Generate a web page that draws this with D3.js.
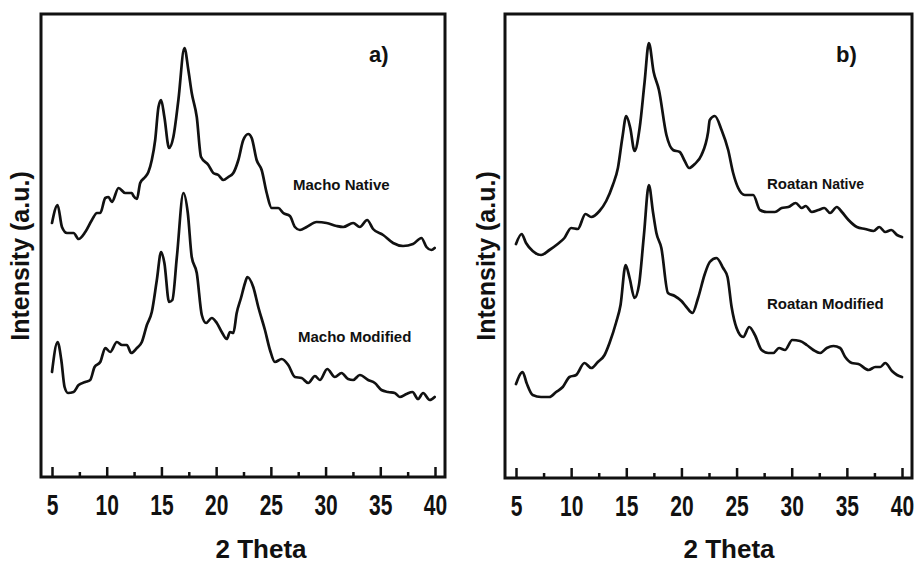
<!DOCTYPE html>
<html>
<head>
<meta charset="utf-8">
<script src="https://cdn.jsdelivr.net/npm/d3@7"></script>
<style>
  body { margin: 0; background: #fff; }
  text { font-family: "Liberation Sans", Arial, sans-serif; fill: #111; }
</style>
</head>
<body>
<div id="chart"></div>
<script>
// 2 Theta values for the ticks
let majorTicks = [5, 10, 15, 20, 25, 30, 35, 40];
let minorTicks = [7.5, 12.5, 17.5, 22.5, 27.5, 32.5, 37.5];

// XRD patterns, [2 theta, intensity (a.u.)]
let machoNative = [
    [5.00, 254], [5.51, 272], [5.91, 250], [6.37, 244], [6.97, 244], [7.43, 238], [8.04, 245],
    [8.65, 257], [9.11, 264], [9.41, 264], [9.87, 279], [10.16, 280], [10.47, 275], [11.08, 289],
    [11.69, 284], [12.30, 284], [12.45, 281], [12.76, 278], [13.06, 294], [13.51, 300], [13.81, 305],
    [14.12, 317], [14.43, 337], [14.73, 370], [14.97, 377], [15.27, 360], [15.70, 329], [16.09, 340],
    [16.55, 377], [17.10, 429], [17.46, 407], [17.77, 384], [18.23, 360], [18.62, 320], [19.29, 312],
    [19.74, 304], [20.20, 302], [20.66, 297], [21.11, 300], [21.57, 304], [22.03, 317], [22.48, 337],
    [22.94, 343], [23.25, 339], [23.70, 317], [24.16, 307], [24.62, 284], [25.07, 269], [25.68, 269],
    [26.13, 264], [26.74, 261], [27.20, 250], [27.66, 247], [28.27, 250], [29.18, 255], [30.09, 254],
    [31.00, 251], [31.61, 250], [32.52, 254], [33.13, 250], [33.80, 257], [34.34, 248], [35.26, 242],
    [36.17, 234], [37.08, 231], [37.99, 233], [38.76, 239], [39.22, 230], [39.67, 227], [39.97, 229]
];
let machoModified = [
    [5.00, 105], [5.51, 135], [5.85, 117], [6.15, 90], [6.46, 84], [6.97, 85], [7.43, 92],
    [8.04, 95], [8.49, 97], [8.89, 110], [9.41, 115], [9.87, 129], [10.32, 125], [10.93, 135],
    [11.39, 132], [11.84, 132], [12.24, 124], [12.76, 129], [13.21, 135], [13.67, 152], [14.12, 165],
    [14.58, 197], [14.97, 225], [15.27, 214], [15.70, 175], [16.00, 177], [16.41, 220], [17.01, 284],
    [17.41, 264], [17.77, 220], [18.23, 204], [18.69, 162], [19.08, 154], [19.60, 159], [20.06, 154],
    [20.51, 145], [20.97, 138], [21.27, 145], [21.57, 144], [21.88, 164], [22.27, 179], [22.64, 194],
    [22.85, 200], [23.39, 190], [23.85, 170], [24.46, 147], [24.92, 127], [25.37, 115], [25.99, 118],
    [26.59, 112], [27.20, 100], [27.81, 99], [28.42, 94], [29.03, 101], [29.48, 97], [30.15, 108],
    [30.85, 100], [31.46, 104], [32.06, 98], [32.52, 97], [33.13, 102], [33.89, 97], [34.50, 94],
    [35.11, 87], [35.71, 85], [36.32, 84], [36.78, 80], [37.39, 83], [37.94, 85], [38.45, 78],
    [38.91, 84], [39.52, 77], [39.97, 80]
];
let roatanNative = [
    [5.00, 234], [5.51, 244], [5.91, 235], [6.51, 227], [7.27, 223], [8.03, 228], [8.78, 234],
    [9.39, 240], [10.00, 250], [10.60, 249], [11.30, 264], [11.82, 261], [12.57, 267], [13.18, 277],
    [13.78, 293], [14.24, 310], [14.64, 340], [15.00, 362], [15.36, 350], [15.75, 327], [16.21, 350],
    [16.66, 396], [17.05, 435], [17.48, 406], [17.96, 388], [18.64, 343], [19.24, 328], [19.85, 326],
    [20.30, 317], [20.69, 310], [21.21, 314], [21.82, 323], [22.42, 346], [22.57, 358], [23.03, 362],
    [23.64, 348], [24.24, 328], [24.69, 305], [25.15, 290], [25.75, 283], [26.51, 283], [27.12, 268],
    [27.73, 266], [28.48, 266], [29.09, 270], [29.69, 271], [30.36, 275], [30.91, 270], [31.27, 272],
    [31.82, 266], [32.42, 268], [32.96, 270], [33.48, 265], [34.09, 271], [34.55, 266], [35.15, 258],
    [35.91, 251], [36.66, 249], [37.42, 247], [37.94, 251], [38.48, 246], [39.03, 248], [39.55, 243],
    [40.00, 241]
];
let roatanModified = [
    [5.00, 94], [5.60, 106], [5.96, 95], [6.51, 83], [7.27, 81], [8.03, 81], [8.64, 86],
    [9.24, 91], [9.85, 101], [10.45, 103], [11.21, 115], [11.82, 110], [12.42, 116], [13.03, 123],
    [13.48, 135], [14.09, 156], [14.48, 173], [14.94, 213], [15.30, 200], [15.75, 180], [16.15, 193],
    [16.60, 243], [17.05, 293], [17.42, 266], [17.73, 245], [18.18, 230], [18.78, 185], [19.39, 182],
    [20.00, 177], [20.45, 171], [21.00, 165], [21.51, 180], [22.12, 204], [22.57, 216], [23.18, 220],
    [23.78, 210], [24.18, 201], [24.55, 171], [25.00, 150], [25.60, 141], [26.15, 151], [26.66, 143],
    [27.27, 128], [27.87, 125], [28.33, 125], [28.85, 130], [29.39, 128], [30.05, 138], [30.75, 137],
    [31.36, 133], [31.96, 128], [32.57, 125], [33.18, 130], [33.78, 132], [34.39, 130], [34.85, 121],
    [35.45, 115], [36.05, 114], [36.96, 108], [37.58, 111], [38.03, 111], [38.48, 115], [39.09, 107],
    [39.55, 103], [40.00, 101]
];

let panels = [
    {
        left: 41, right: 445, top: 14, bottom: 477, tag: 'a)',
        series: [
            { data: machoNative, name: ['Macho', 'Native'], lx: 293, ly: 190 },
            { data: machoModified, name: ['Macho', 'Modified'], lx: 298, ly: 342 }
        ],
        yLabelX: 29, titleX: 261
    },
    {
        left: 505, right: 912, top: 14, bottom: 478, tag: 'b)',
        series: [
            { data: roatanNative, name: ['Roatan', 'Native'], lx: 767, ly: 189, small: true },
            { data: roatanModified, name: ['Roatan', 'Modified'], lx: 767, ly: 309 }
        ],
        yLabelX: 495, titleX: 729
    }
];

let svg = d3.select('#chart')
    .append('svg')
    .attr('width', 919)
    .attr('height', 565);

panels.forEach(function (p) {
    let x = d3.scaleLinear().domain([5, 40]).range([p.left + 11, p.right - 10]);
    let y = d3.scaleLinear().domain([0, 464]).range([p.bottom, p.bottom - 464]);

    let line = d3.line()
        .x(function (d) { return x(d[0]); })
        .y(function (d) { return y(d[1]); })
        .curve(d3.curveMonotoneX);

    // curves
    p.series.forEach(function (s) {
        svg.append('path')
            .datum(s.data)
            .attr('fill', 'none')
            .attr('stroke', '#111')
            .attr('stroke-width', 2.7)
            .attr('stroke-linejoin', 'round')
            .attr('stroke-linecap', 'round')
            .attr('d', line);

        let t = svg.append('text')
            .attr('x', s.lx)
            .attr('y', s.ly)
            .attr('font-size', 15)
            .attr('font-weight', 'bold');
        t.append('tspan').text(s.name[0] + ' ');
        t.append('tspan').attr('font-size', s.small ? 14 : 15).text(s.name[1]);
    });

    // minor ticks
    let minor = svg.append('g')
        .attr('transform', 'translate(0,' + p.bottom + ')')
        .call(d3.axisBottom(x).tickValues(minorTicks).tickSize(-5).tickFormat(''));
    minor.select('.domain').remove();
    minor.selectAll('line').attr('stroke', '#111').attr('stroke-width', 2.5);

    // major ticks with labels
    let major = svg.append('g')
        .attr('transform', 'translate(0,' + p.bottom + ')')
        .call(d3.axisBottom(x).tickValues(majorTicks).tickSize(-10).tickPadding(17).tickFormat(d3.format('d')));
    major.select('.domain').remove();
    major.selectAll('line').attr('stroke', '#111').attr('stroke-width', 2.5);
    major.selectAll('text')
        .attr('font-size', 30)
        .attr('font-weight', 'bold')
        .attr('font-family', '"Liberation Sans", Arial, sans-serif')
        .attr('fill', '#111')
        .attr('transform', 'scale(0.7,1)');

    // frame
    svg.append('rect')
        .attr('x', p.left)
        .attr('y', p.top)
        .attr('width', p.right - p.left)
        .attr('height', p.bottom - p.top)
        .attr('fill', 'none')
        .attr('stroke', '#111')
        .attr('stroke-width', 3);

    // panel tag
    svg.append('text')
        .attr('x', p.right - 76)
        .attr('y', 62)
        .attr('font-size', 22)
        .attr('font-weight', 'bold')
        .text(p.tag);

    // axis titles
    svg.append('text')
        .attr('x', p.titleX)
        .attr('y', 558)
        .attr('text-anchor', 'middle')
        .attr('font-size', 26)
        .attr('font-weight', 'bold')
        .text('2 Theta');

    svg.append('text')
        .attr('transform', 'translate(' + p.yLabelX + ',256) rotate(-90)')
        .attr('text-anchor', 'middle')
        .attr('font-size', 25)
        .attr('font-weight', 'bold')
        .text('Intensity (a.u.)');
});
</script>
</body>
</html>
